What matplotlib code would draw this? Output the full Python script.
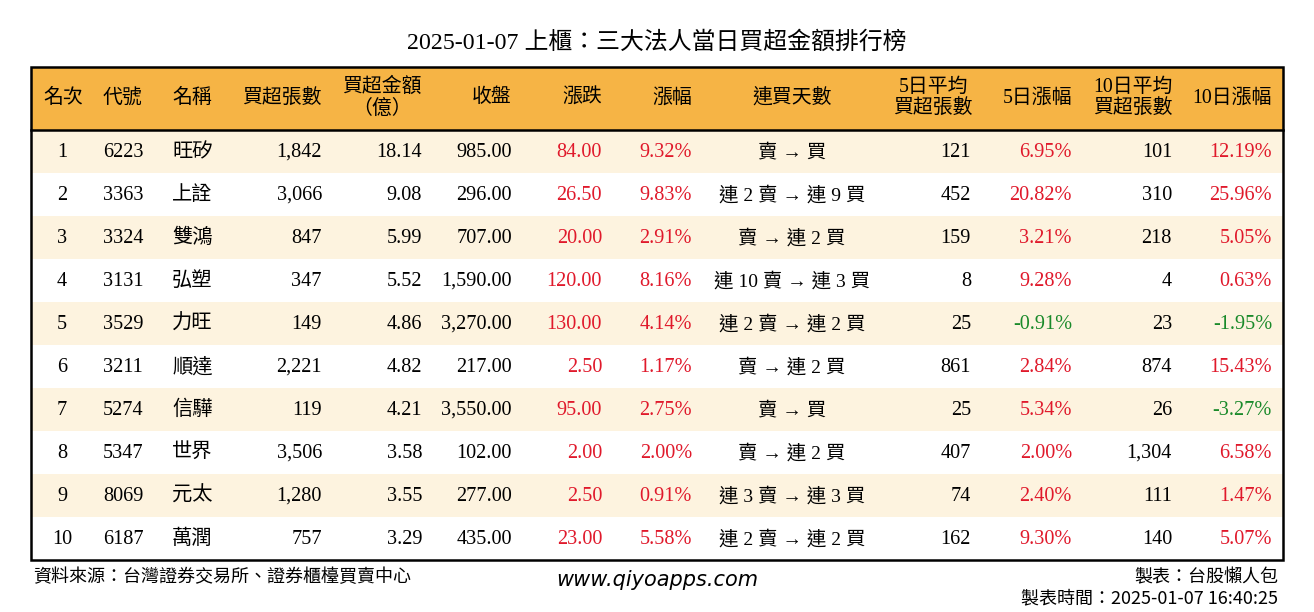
import matplotlib
matplotlib.use('Agg')
import matplotlib.pyplot as plt
from matplotlib.patches import Rectangle

plt.rcParams['font.family'] = ['Liberation Serif', 'Noto Sans CJK TC', 'DejaVu Sans']

title = '2025-01-07 上櫃：三大法人當日買超金額排行榜'
headers = ['名次', '代號', '名稱', '買超張數', '買超金額\n（億）', '收盤', '漲跌', '漲幅',
           '連買天數', '5日平均\n買超張數', '5日漲幅', '10日平均\n買超張數', '10日漲幅']

ranks = list(range(1, 11))
codes = ['6223', '3363', '3324', '3131', '3529', '3211', '5274', '5347', '8069', '6187']
names = ['旺矽', '上詮', '雙鴻', '弘塑', '力旺', '順達', '信驊', '世界', '元太', '萬潤']
buy_lots = [1842, 3066, 847, 347, 149, 2221, 119, 3506, 1280, 757]
buy_amount = [18.14, 9.08, 5.99, 5.52, 4.86, 4.82, 4.21, 3.58, 3.55, 3.29]
close = [985.00, 296.00, 707.00, 1590.00, 3270.00, 217.00, 3550.00, 102.00, 277.00, 435.00]
change = [84.00, 26.50, 20.00, 120.00, 130.00, 2.50, 95.00, 2.00, 2.50, 23.00]
pct = [9.32, 9.83, 2.91, 8.16, 4.14, 1.17, 2.75, 2.00, 0.91, 5.58]
streak = ['賣 → 買', '連 2 賣 → 連 9 買', '賣 → 連 2 買', '連 10 賣 → 連 3 買',
          '連 2 賣 → 連 2 買', '賣 → 連 2 買', '賣 → 買', '賣 → 連 2 買',
          '連 3 賣 → 連 3 買', '連 2 賣 → 連 2 買']
avg5 = [121, 452, 159, 8, 25, 861, 25, 407, 74, 162]
pct5 = [6.95, 20.82, 3.21, 9.28, -0.91, 2.84, 5.34, 2.00, 2.40, 9.30]
avg10 = [101, 310, 218, 4, 23, 874, 26, 1304, 111, 140]
pct10 = [12.19, 25.96, 5.05, 0.63, -1.95, 15.43, -3.27, 6.58, 1.47, 5.07]

RED = '#e0192b'
GREEN = '#1a8a2a'
ORANGE = '#f6b445'
CREAM = '#fdf3df'

fig = plt.figure(figsize=(13.14, 6.12), dpi=100)
ax = fig.add_axes([0, 0, 1, 1])
ax.set_xlim(0, 1314)
ax.set_ylim(612, 0)
ax.axis('off')

left, right = 31, 1283
top, head_bot = 67, 130
row_h = 43
n = len(ranks)
bottom = head_bot + row_h * n

# backgrounds
ax.add_patch(Rectangle((left, top), right - left, head_bot - top, color=ORANGE, lw=0))
for i in range(n):
    if i % 2 == 0:
        ax.add_patch(Rectangle((left, head_bot + i * row_h), right - left, row_h, color=CREAM, lw=0))
ax.add_patch(Rectangle((left, top), right - left, bottom - top, fill=False, ec='black', lw=1.8))
ax.plot([left, right], [head_bot, head_bot], color='black', lw=1.8)

# column x position and alignment
cols = [(62, 'center'), (103, 'left'), (172, 'left'), (322, 'right'), (422, 'right'),
        (512, 'right'), (602, 'right'), (692, 'right'), (792, 'center'), (971, 'right'),
        (1072, 'right'), (1172, 'right'), (1272, 'right')]
hdr_x = [63, 103, 172, 322, 382, 512, 602, 692, 792, 933, 1072, 1133, 1272]
hdr_ha = ['center', 'left', 'left', 'right', 'center', 'right', 'right', 'right', 'center',
          'center', 'right', 'center', 'right']

fs = 14.6
ax.text(657, 42, title, ha='center', va='center', fontsize=17.2)
for h, x, ha in zip(headers, hdr_x, hdr_ha):
    ax.text(x, 98, h, ha=ha, va='center', fontsize=14.3, multialignment='center', linespacing=1.2)

def sign_color(v):
    return RED if v > 0 else GREEN

for i in range(n):
    y = head_bot + row_h * i + row_h / 2 + 1
    cells = [
        (str(ranks[i]), 'black'),
        (codes[i], 'black'),
        (names[i], 'black'),
        (f'{buy_lots[i]:,}', 'black'),
        (f'{buy_amount[i]:.2f}', 'black'),
        (f'{close[i]:,.2f}', 'black'),
        (f'{change[i]:.2f}', sign_color(change[i])),
        (f'{pct[i]:.2f}%', sign_color(pct[i])),
        (streak[i], 'black'),
        (f'{avg5[i]:,}', 'black'),
        (f'{pct5[i]:.2f}%', sign_color(pct5[i])),
        (f'{avg10[i]:,}', 'black'),
        (f'{pct10[i]:.2f}%', sign_color(pct10[i])),
    ]
    for j, ((txt, c), (x, ha)) in enumerate(zip(cells, cols)):
        size = 14 if j == 8 else fs
        ax.text(x, y, txt, ha=ha, va='center', fontsize=size, color=c)

# footer
ax.text(33, 577, '資料來源：台灣證券交易所、證券櫃檯買賣中心', ha='left', va='center',
        fontsize=13, family=['Noto Sans CJK TC', 'DejaVu Sans'])
ax.text(657, 580, 'www.qiyoapps.com', ha='center', va='center', fontsize=15,
        style='italic', family=['DejaVu Sans'])
ax.text(1278, 577, '製表：台股懶人包', ha='right', va='center', fontsize=13,
        family=['Noto Sans CJK TC', 'DejaVu Sans'])
ax.text(1278, 598, '製表時間：2025-01-07 16:40:25', ha='right', va='center', fontsize=13,
        family=['Noto Sans CJK TC', 'DejaVu Sans'])

fig.savefig('out.png', dpi=100)
